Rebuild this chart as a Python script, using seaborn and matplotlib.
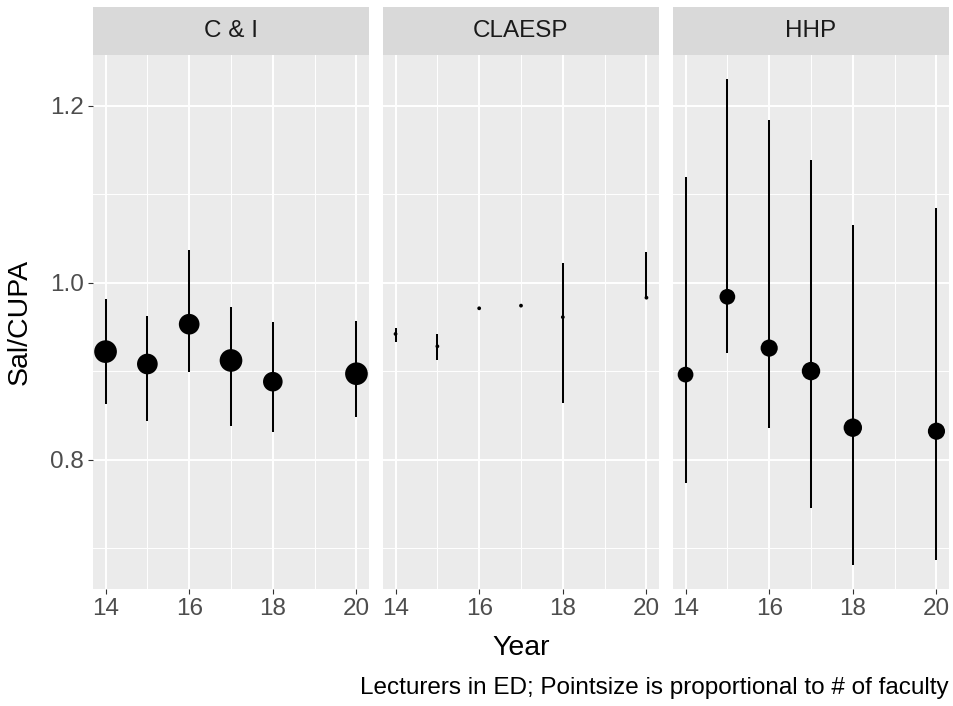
import numpy as np
import pandas as pd
import seaborn as sns
import matplotlib
matplotlib.use("Agg")
import matplotlib.pyplot as plt
from matplotlib.ticker import FixedLocator

# ---------------- data ----------------
years = [14, 15, 16, 17, 18, 20]
colleges = ["C & I", "CLAESP", "HHP"]

ci_mid = [0.922, 0.908, 0.953, 0.912, 0.888, 0.897]
ci_lo = [0.863, 0.843, 0.899, 0.838, 0.831, 0.848]
ci_hi = [0.982, 0.962, 1.037, 0.973, 0.955, 0.957]
ci_n = [11, 9, 9, 11, 8, 11]

cl_mid = [0.942, 0.928, 0.971, 0.974, 0.961, 0.983]
cl_lo = [0.933, 0.912, 0.971, 0.974, 0.864, 0.982]
cl_hi = [0.949, 0.942, 0.971, 0.974, 1.022, 1.035]
cl_n = [1, 1, 1, 1, 1, 1]

hhp_mid = [0.896, 0.984, 0.926, 0.900, 0.836, 0.832]
hhp_lo = [0.773, 0.921, 0.836, 0.745, 0.681, 0.686]
hhp_hi = [1.120, 1.230, 1.184, 1.139, 1.065, 1.084]
hhp_n = [5, 5, 6, 7, 7, 6]

x_ticks = [14, 16, 18, 20]
y_ticks = [0.8, 1.0, 1.2]
y_tick_labels = ["0.8", "1.0", "1.2"]

frames = []
for name, mid, lo, hi, n in [
    ("C & I", ci_mid, ci_lo, ci_hi, ci_n),
    ("CLAESP", cl_mid, cl_lo, cl_hi, cl_n),
    ("HHP", hhp_mid, hhp_lo, hhp_hi, hhp_n),
]:
    frames.append(pd.DataFrame({"College": name, "Year": years, "Sal": mid,
                                "lo": lo, "hi": hi, "n": n}))
df = pd.concat(frames, ignore_index=True)

# size scale (ggplot-like area scale: diameter 1..6 mm)
nmin, nmax = df["n"].min(), df["n"].max()
size_map = {}
for v in sorted(df["n"].unique()):
    t = (v - nmin) / (nmax - nmin) if nmax > nmin else 0
    gsize = 1 + 5 * np.sqrt(t)
    d_px = 3.78 * gsize
    size_map[v] = (d_px * 72 / 100) ** 2

# ---------------- layout ----------------
W, H = 954, 706
fig = plt.figure(figsize=(W / 100, H / 100), dpi=100)
plt.rcParams["font.family"] = ["Liberation Sans", "DejaVu Sans"]

panel_left = [93, 383, 673]
panel_w = 276
panel_top, panel_bot = 55, 589
strip_top = 7

ymin_d = min(df["lo"].min(), df["Sal"].min())
ymax_d = max(df["hi"].max(), df["Sal"].max())
yr = ymax_d - ymin_d
ylim = (ymin_d - 0.05 * yr, ymax_d + 0.05 * yr)
xr = max(years) - min(years)
xlim = (min(years) - 0.05 * xr, max(years) + 0.05 * xr)

tick_fs = 17.5
title_fs = 20.5
axes = []
for i, col in enumerate(colleges):
    x0 = panel_left[i]
    ax = fig.add_axes([x0 / W, (H - panel_bot) / H, panel_w / W, (panel_bot - panel_top) / H])
    axes.append(ax)
    sub = df[df["College"] == col]
    ax.set_facecolor("#EBEBEB")
    ax.set_axisbelow(True)
    ax.vlines(sub["Year"], sub["lo"], sub["hi"], color="black", lw=1.45, zorder=3)
    sns.scatterplot(data=sub, x="Year", y="Sal", size="n", sizes=size_map,
                    color="black", linewidth=0, legend=False, ax=ax, zorder=4)
    ax.set_xlim(*xlim)
    ax.set_ylim(*ylim)
    ax.xaxis.set_major_locator(FixedLocator(x_ticks))
    ax.xaxis.set_minor_locator(FixedLocator([15, 17, 19]))
    ax.yaxis.set_major_locator(FixedLocator(y_ticks))
    ax.yaxis.set_minor_locator(FixedLocator([0.7, 0.9, 1.1]))
    ax.grid(which="major", color="white", lw=1.4)
    ax.grid(which="minor", color="white", lw=0.7)
    for s in ax.spines.values():
        s.set_visible(False)
    ax.tick_params(axis="both", which="minor", length=0)
    ax.tick_params(axis="x", which="major", length=3.5, width=0.8, color="#333333",
                   labelsize=tick_fs, labelcolor="#4D4D4D", pad=3)
    ax.set_xticklabels([str(t) for t in x_ticks])
    if i == 0:
        ax.tick_params(axis="y", which="major", length=3.5, width=0.8, color="#333333",
                       labelsize=tick_fs, labelcolor="#4D4D4D", pad=3)
        ax.set_yticklabels(y_tick_labels)
    else:
        ax.tick_params(axis="y", which="major", length=0, labelleft=False)
    ax.set_xlabel("")
    ax.set_ylabel("")

    # strip
    sax = fig.add_axes([x0 / W, (H - panel_top) / H, panel_w / W, (panel_top - strip_top) / H])
    sax.set_facecolor("#D9D9D9")
    sax.set_xticks([])
    sax.set_yticks([])
    for s in sax.spines.values():
        s.set_visible(False)
    sax.text(0.5, 0.5, col, ha="center", va="center", fontsize=tick_fs, color="#1A1A1A",
             transform=sax.transAxes)

fig.text((93 + 949) / 2 / W, 1 - 648 / H, "Year", ha="center", va="center", fontsize=title_fs)
fig.text(20 / W, 1 - (panel_top + panel_bot) / 2 / H, "Sal/CUPA", ha="center", va="center",
         rotation=90, fontsize=title_fs)
fig.text(949 / W, 1 - 688 / H, "Lecturers in ED; Pointsize is proportional to # of faculty",
         ha="right", va="center", fontsize=tick_fs, color="black")

fig.savefig("out.png", dpi=100, facecolor="white")
